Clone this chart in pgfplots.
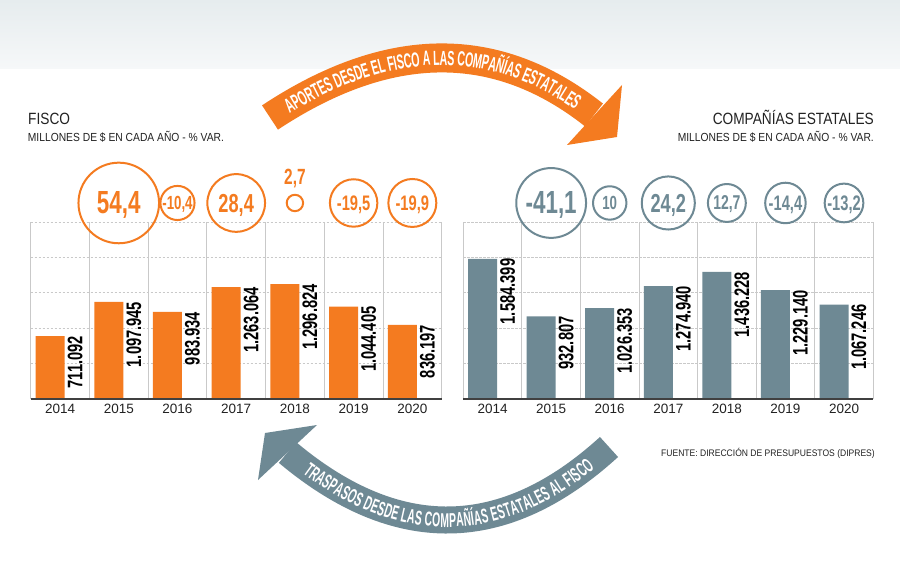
\documentclass[border=0pt]{standalone}
\usepackage{fontspec}
\setmainfont{Liberation Sans}
\newfontfamily\condb{Liberation Sans}[FakeStretch=0.7]
\newfontfamily\arrf{Liberation Sans}[FakeStretch=0.52]
\newfontfamily\titf{Liberation Sans}[FakeStretch=0.84]
\newfontfamily\subf{Liberation Sans}[FakeStretch=0.88]
\newfontfamily\srcf{Liberation Sans}[FakeStretch=0.9]
\usepackage{pgfplots}
\usepackage{pgfplotstable}
\pgfplotsset{compat=1.18}
\usetikzlibrary{decorations.text}

\definecolor{fisco}{HTML}{F47B20}
\definecolor{comp}{HTML}{6E8994}
\definecolor{gridc}{HTML}{C9C9C9}
\definecolor{ink}{HTML}{222222}
\definecolor{topg}{HTML}{E6ECEE}
\definecolor{topg2}{HTML}{F6F8F9}

% tamanos de letra de las cifras en los circulos
\protected\def\fA{\fontsize{32}{32}\selectfont}
\protected\def\fB{\fontsize{26}{26}\selectfont}
\protected\def\fC{\fontsize{21}{21}\selectfont}
\protected\def\fD{\fontsize{20}{20}\selectfont}
\protected\def\fE{\fontsize{19}{19}\selectfont}
\protected\def\fF{\fontsize{22}{22}\selectfont}
% letra de las flechas
\protected\def\arrA{\arrf\bfseries\fontsize{20.5}{20.5}\selectfont}
\protected\def\arrB{\arrf\bfseries\fontsize{20}{20}\selectfont}

% montos anuales (millones de $)
\pgfplotstableread{
x val lab
0 711092 711.092
1 1097945 1.097.945
2 983934 983.934
3 1263064 1.263.064
4 1296824 1.296.824
5 1044405 1.044.405
6 836197 836.197
}\fisco
\pgfplotstableread{
x val lab
0 1584399 1.584.399
1 932807 932.807
2 1026353 1.026.353
3 1274940 1.274.940
4 1436228 1.436.228
5 1229140 1.229.140
6 1067246 1.067.246
}\comp

% variacion % (circulos)
\pgfplotstableread{
x cy pct lab
1 2215000 54.4 \fA54,4
2 2215000 -10.4 \fE-10,4
3 2215000 28.4 \fB28,4
4 2215000 2.7 {}
5 2215000 -19.5 \fC-19,5
6 2215000 -19.9 \fC-19,9
}\fiscovar
\pgfplotstableread{
x cy pct lab
1 2215000 -41.1 \fA-41,1
2 2215000 10 \fE10
3 2215000 24.2 \fB24,2
4 2215000 12.7 \fD12,7
5 2215000 -14.4 \fC-14,4
6 2215000 -13.2 \fC-13,2
}\compvar

\pgfplotsset{
  panel/.style={
    scale only axis, width=411pt, height=177pt, anchor=south west,
    xmin=-0.5, xmax=6.5, ymin=0, ymax=2000000,
    clip=false,
    axis line style={draw=none},
    major tick length=0pt, minor tick length=0pt,
    xtick={0,...,6},
    xticklabels={2014,2015,2016,2017,2018,2019,2020},
    xticklabel style={font=\fontsize{13.5}{13.5}\selectfont, text=ink, yshift=-2pt},
    minor xtick={-0.5,0.5,...,6.5},
    xminorgrids=true,
    minor x grid style={solid, draw=gridc, line width=0.9pt},
    ytick={400000,800000,1200000,1600000,2000000},
    yticklabels={},
    scaled y ticks=false,
    ymajorgrids=true,
    major y grid style={dash pattern=on 2.5pt off 1.5pt, draw=gridc, line width=0.8pt},
  },
  vals/.style={draw=none, mark=none, point meta=explicit symbolic,
    nodes near coords,
    every node near coord/.append style={xshift=15pt, rotate=90, anchor=east,
      inner sep=0pt, outer sep=0pt, text=black,
      font=\condb\bfseries\fontsize{21}{21}\selectfont}},
  rings/.style={scatter, only marks, mark=o, line width=2pt,
    scatter/use mapped color={draw=#1, fill=none},
    visualization depends on={5.6*sqrt(abs(\thisrow{pct}))-1 \as \rad},
    scatter/@pre marker code/.append style={/tikz/mark size=\rad}},
  ringlabels/.style={draw=none, mark=none, point meta=explicit symbolic,
    nodes near coords,
    every node near coord/.append style={anchor=center, inner sep=0pt,
      text depth=0pt, text=#1, font=\condb\bfseries}},
}

\begin{document}
\begin{tikzpicture}
\useasboundingbox (0,0) rectangle (900pt,571pt);
\fill[white] (0,0) rectangle (900pt,571pt);
\shade[top color=topg, bottom color=topg2] (0,571pt) rectangle (900pt,502pt);

\begin{axis}[panel, at={(30.7pt,172pt)}]
\addplot[ybar, bar width=29pt, bar shift=-10pt, fill=fisco, draw=none] table[x=x, y=val] {\fisco};
\addplot[vals] table[x=x, y=val, meta=lab] {\fisco};
\addplot[rings=fisco] table[x=x, y=cy] {\fiscovar};
\addplot[ringlabels=fisco] table[x=x, y=cy, meta=lab] {\fiscovar};
% 2,7 va sobre su circulo
\addplot[ringlabels=fisco, every node near coord/.append style={yshift=26.5pt}]
  coordinates {(4,2215000) [\fF2,7]};
\draw[line width=1.6pt, draw=black!75] (rel axis cs:0,0) -- (rel axis cs:1,0);
\end{axis}

\begin{axis}[panel, width=410pt, at={(463.3pt,172pt)}]
\addplot[ybar, bar width=29pt, bar shift=-10pt, fill=comp, draw=none] table[x=x, y=val] {\comp};
\addplot[vals] table[x=x, y=val, meta=lab] {\comp};
\addplot[rings=comp] table[x=x, y=cy] {\compvar};
\addplot[ringlabels=comp] table[x=x, y=cy, meta=lab] {\compvar};
\draw[line width=1.6pt, draw=black!75] (rel axis cs:0,0) -- (rel axis cs:1,0);
\end{axis}

\begin{scope}[x=1pt, y=1pt]
% titulos
\node[anchor=base west, inner sep=0pt, text=ink, font=\titf\fontsize{16.3}{16.3}\selectfont] at (28,446) {FISCO};
\node[anchor=base west, inner sep=0pt, text=ink, font=\subf\fontsize{11.7}{11.7}\selectfont] at (27.7,429.3) {MILLONES DE \$ EN CADA AÑO - \% VAR.};
\node[anchor=base east, inner sep=0pt, text=ink, font=\titf\fontsize{16.3}{16.3}\selectfont] at (874,446) {COMPAÑÍAS ESTATALES};
\node[anchor=base east, inner sep=0pt, text=ink, font=\subf\fontsize{11.7}{11.7}\selectfont] at (874,429.3) {MILLONES DE \$ EN CADA AÑO - \% VAR.};
\node[anchor=base east, inner sep=0pt, text=ink, font=\srcf\fontsize{9.5}{9.5}\selectfont] at (875,114.3) {FUENTE: DIRECCIÓN DE PRESUPUESTOS (DIPRES)};

% flecha superior
\draw[fisco, line width=29pt] (270,453.5) .. controls (388.7,532) and (496.7,533) .. (594,456);
\fill[fisco] (622,486) -- (617,434) -- (567,426) -- cycle;
\path[decorate, decoration={text along path, text align=center, raise=-7.3pt, text color=white,
  text={|\arrA|APORTES DESDE EL FISCO A LAS COMPAÑÍAS ESTATALES}}]
  (270,453.5) .. controls (388.7,532) and (496.7,533) .. (594,456);

% flecha inferior
\draw[comp, line width=27pt] (287.5,118.5) .. controls (397,26.7) and (504.2,28.5) .. (609,124);
\fill[comp] (317,146) -- (265,138) -- (258,91) -- cycle;
\path[decorate, decoration={text along path, text align=center, raise=-7.1pt, text color=white,
  text={|\arrB|TRASPASOS DESDE LAS COMPAÑÍAS ESTATALES AL FISCO}}]
  (287.5,118.5) .. controls (397,26.7) and (504.2,28.5) .. (609,124);
\end{scope}
\end{tikzpicture}
\end{document}
